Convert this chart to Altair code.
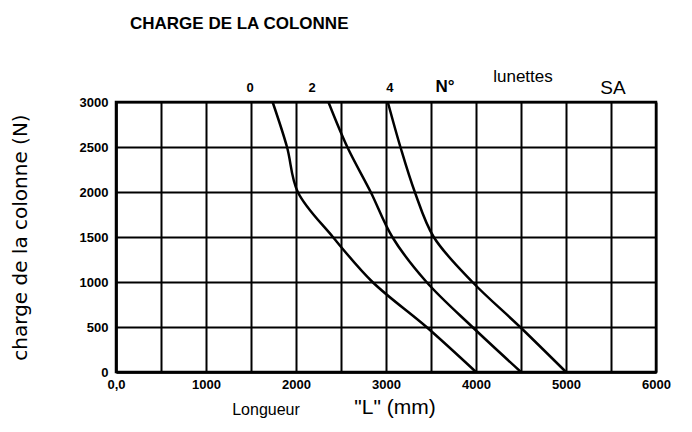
import altair as alt
import pandas as pd

# Charge de la colonne (N) vs Longueur L (mm), one curve per number of lunettes
charge = [3000, 2500, 2000, 1500, 1000, 500, 0]
L_0 = [1740, 1900, 2020, 2410, 2850, 3450, 4000]
L_2 = [2360, 2570, 2830, 3070, 3450, 3960, 4500]
L_4 = [3020, 3160, 3320, 3530, 3960, 4490, 5000]
curve_names = ["0", "2", "4"]

x_ticks = [0, 500, 1000, 1500, 2000, 2500, 3000, 3500, 4000, 4500, 5000, 5500, 6000]
y_ticks = [0, 500, 1000, 1500, 2000, 2500, 3000]

# labels above the grid (curve numbers)
num_labels = ["0", "2", "4"]
num_x = [1489, 2178, 3044]
num_y = [3160, 3160, 3160]

rows = []
for name, Ls in zip(curve_names, [L_0, L_2, L_4]):
    for c, l in zip(charge, Ls):
        rows.append({"lunettes": name, "L": l, "charge": c})
df = pd.DataFrame(rows)

FONT = "Liberation Sans"
xscale = alt.Scale(domain=[0, 6000], nice=False, zero=False)
yscale = alt.Scale(domain=[0, 3000], nice=False)

curves = alt.Chart(df).mark_line(
    color="black", strokeWidth=2.5, interpolate="catmull-rom"
).encode(
    x=alt.X("L:Q", scale=xscale, title=None,
            axis=alt.Axis(values=x_ticks, grid=True, format="d",
                          labelExpr="datum.value % 1000 == 0 ? (datum.value == 0 ? '0,0' : datum.label) : ''",
                          labelPadding=6, labelFlush=False)),
    y=alt.Y("charge:Q", scale=yscale, title="charge de la colonne    (N)",
            axis=alt.Axis(values=y_ticks, grid=True, format="d", labelPadding=8,
                          titlePadding=49, titleFontSize=20, titleFontWeight="normal",
                          titleFont="DejaVu Sans", titleColor="black")),
    detail="lunettes:N",
    order=alt.Order("L:Q"),
)

nums = alt.Chart(pd.DataFrame({"t": num_labels, "x": num_x, "y": num_y})).mark_text(
    font=FONT, fontWeight="bold", fontSize=13, color="black", baseline="middle"
).encode(x=alt.X("x:Q", scale=xscale), y=alt.Y("y:Q", scale=yscale), text="t:N")

no_lbl = alt.Chart(pd.DataFrame({"t": ["N°"], "x": [3656], "y": [3165]})).mark_text(
    font=FONT, fontWeight="bold", fontSize=17, color="black", baseline="middle"
).encode(x=alt.X("x:Q", scale=xscale), y=alt.Y("y:Q", scale=yscale), text="t:N")

lun_lbl = alt.Chart(pd.DataFrame({"t": ["lunettes"], "x": [4522], "y": [3278]})).mark_text(
    font=FONT, fontSize=17, color="black", baseline="middle"
).encode(x=alt.X("x:Q", scale=xscale), y=alt.Y("y:Q", scale=yscale), text="t:N")

sa_lbl = alt.Chart(pd.DataFrame({"t": ["SA"], "x": [5522], "y": [3160]})).mark_text(
    font=FONT, fontSize=19, color="black", baseline="middle"
).encode(x=alt.X("x:Q", scale=xscale), y=alt.Y("y:Q", scale=yscale), text="t:N")

long_lbl = alt.Chart(pd.DataFrame({"t": ["Longueur"], "x": [1667], "y": [-422]})).mark_text(
    font=FONT, fontSize=16, color="black", baseline="middle"
).encode(x=alt.X("x:Q", scale=xscale), y=alt.Y("y:Q", scale=yscale), text="t:N")

unit_lbl = alt.Chart(pd.DataFrame({"t": ['"L"   (mm)'], "x": [3100], "y": [-400]})).mark_text(
    font=FONT, fontSize=21, color="black", baseline="middle"
).encode(x=alt.X("x:Q", scale=xscale), y=alt.Y("y:Q", scale=yscale), text="t:N")

chart = alt.layer(curves, nums, no_lbl, lun_lbl, sa_lbl, long_lbl, unit_lbl).properties(
    width=540,
    height=270,
    title=alt.TitleParams("CHARGE DE LA COLONNE", anchor="start", frame="group", dx=14,
                          offset=22, baseline="alphabetic", fontSize=17, font=FONT,
                          fontWeight="bold", color="black"),
    autosize=alt.AutoSizeParams(type="none"),
    padding={"left": 108, "top": 94, "right": 28, "bottom": 52},
).configure_view(
    stroke="black", strokeWidth=2.5
).configure_axis(
    grid=True, gridColor="black", gridOpacity=1, gridWidth=2,
    domainColor="black", domainWidth=2.5, ticks=False,
    labelFont=FONT, labelFontWeight="bold", labelFontSize=13, labelColor="black",
)

chart.save("out.html", embed_options={"renderer": "svg", "actions": False})
